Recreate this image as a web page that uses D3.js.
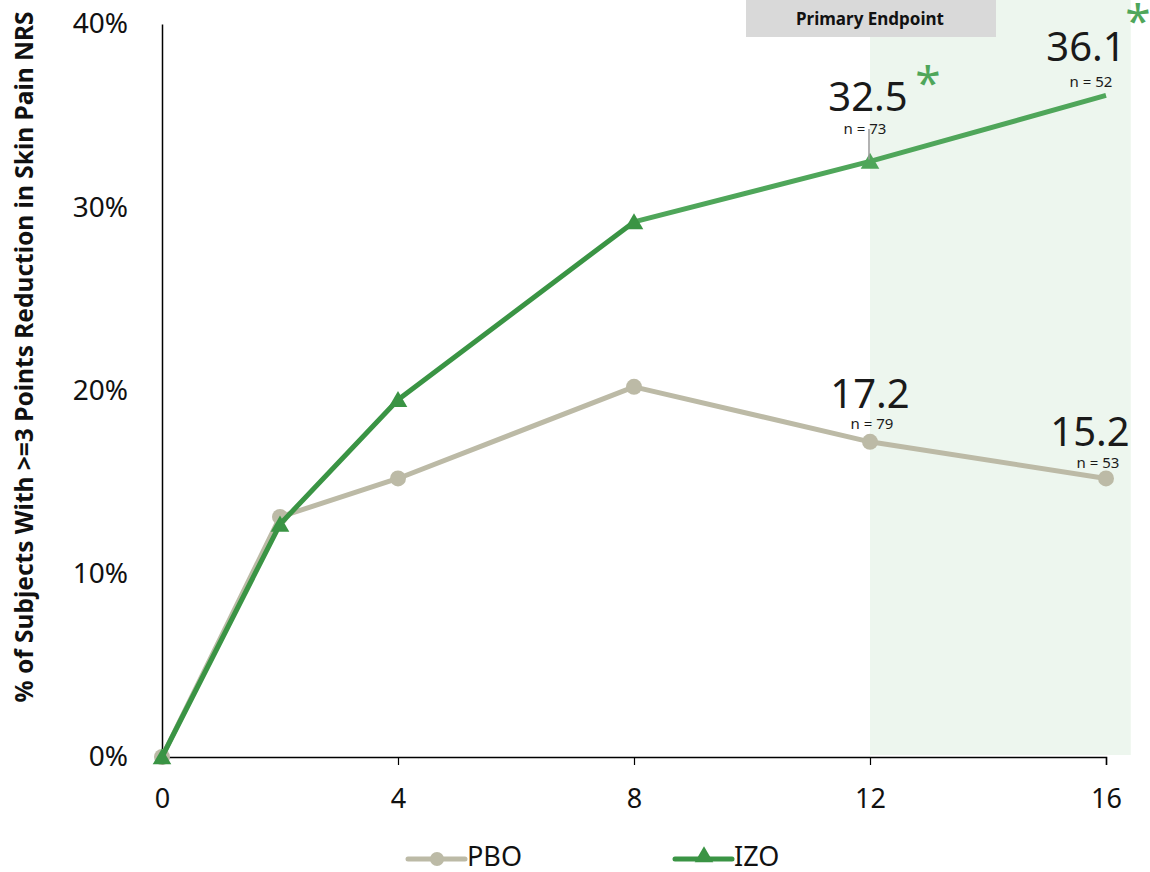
<!DOCTYPE html>
<html><head><meta charset="utf-8">
<script src="https://cdn.jsdelivr.net/npm/d3@7"></script>
<style>body{margin:0;background:#fff}svg{display:block;font-family:"Noto Sans","Open Sans",sans-serif}</style>
</head><body><svg id="c" width="1150" height="872"></svg>
<script>
const weeks = [0, 2, 4, 8, 12, 16];
const pbo = [0, 13.1, 15.2, 20.2, 17.2, 15.2];
const izo = [0, 12.7, 19.5, 29.2, 32.5, 36.1];
const xTicks = [0, 4, 8, 12, 16];
const yTicks = [0, 10, 20, 30, 40];
const labelsPBO = [{w:12, v:"17.2", n:"n = 79"}, {w:16, v:"15.2", n:"n = 53"}];
const labelsIZO = [{w:12, v:"32.5", n:"n = 73"}, {w:16, v:"36.1", n:"n = 52"}];
const seriesNames = ["PBO", "IZO"];

const svg = d3.select("#c");
const x = d3.scaleLinear().domain([0,16]).range([162,1106]);
const y = d3.scaleLinear().domain([0,40]).range([757,24]);
const cPBO = "#bcbaa6", cIZO = "#3a9444", cIZO2 = "#4fa65a";

// shaded primary endpoint region
svg.append("rect").attr("x", x(12)).attr("y", 0).attr("width", x(16.42)-x(12)).attr("height", y(0)-2)
  .attr("fill", "#edf6ee");
svg.append("rect").attr("x", x(12)-124).attr("y", 0).attr("width", 250).attr("height", 37).attr("fill", "#d9d9d9");
svg.append("text").attr("x", x(12)).attr("y", 20).attr("text-anchor","middle").attr("dominant-baseline","middle")
  .attr("font-size", 17).attr("font-weight", "bold").attr("fill","#111").text("Primary Endpoint");

// axes
const yAxis = svg.append("g").attr("transform", `translate(${x(0)},0)`)
  .call(d3.axisLeft(y).tickValues(yTicks).tickSize(0).tickFormat(d => d + "%"));
yAxis.select(".domain").attr("stroke","#000").attr("stroke-width",1.5);
yAxis.selectAll("text").attr("font-size", 28).attr("fill","#111").attr("x", -34).attr("font-family","Noto Sans");

const xAxis = svg.append("g").attr("transform", `translate(0,${y(0)})`)
  .call(d3.axisBottom(x).tickValues(xTicks).tickSizeOuter(0).tickSize(8));
xAxis.select(".domain").attr("stroke","#000").attr("stroke-width",1.5);
xAxis.selectAll("line").attr("stroke","#000").attr("stroke-width",1.2);
xAxis.selectAll("text").attr("font-size", 27).attr("fill","#111").attr("y", 32).attr("font-family","Noto Sans");

// y label
svg.append("text").attr("transform", "translate(33,357) rotate(-90)").attr("text-anchor","middle")
  .attr("font-size", 24.5).attr("font-weight","bold").attr("fill","#111")
  .text("% of Subjects With >=3 Points Reduction in Skin Pain NRS");

const line = d3.line().x(d => x(d[0])).y(d => y(d[1]));
const pD = weeks.map((w,i) => [w, pbo[i]]);
const iD = weeks.map((w,i) => [w, izo[i]]);

// PBO
svg.append("path").attr("d", line(pD)).attr("fill","none").attr("stroke", cPBO).attr("stroke-width", 5).attr("stroke-linejoin","round");
svg.selectAll(".pm").data(pD).join("circle").attr("cx", d => x(d[0])).attr("cy", d => y(d[1])).attr("r", 8).attr("fill", cPBO);

// IZO
svg.append("path").attr("d", line(iD.slice(0,4))).attr("fill","none").attr("stroke", cIZO).attr("stroke-width", 5).attr("stroke-linejoin","round");
svg.append("path").attr("d", line(iD.slice(3))).attr("fill","none").attr("stroke", cIZO2).attr("stroke-width", 5).attr("stroke-linejoin","round");
const tri = d3.symbol().type(d3.symbolTriangle).size(150);
svg.selectAll(".im").data(iD.slice(0,5)).join("path").attr("d", tri)
  .attr("transform", d => `translate(${x(d[0])},${y(d[1])+2})`)
  .attr("fill", (d,i) => i === 4 ? cIZO2 : cIZO);

// leader line at week 12 IZO
svg.append("line").attr("x1", x(12)-1).attr("x2", x(12)-1).attr("y1", 129).attr("y2", y(32.5)-2)
  .attr("stroke", "#999").attr("stroke-width", 1.5);

// data labels
const lbl = (cx, by, v, ny, n, nx) => {
  svg.append("text").attr("x", cx).attr("y", by).attr("text-anchor","middle").attr("font-size", 40).attr("fill","#1a1a1a").text(v);
  svg.append("text").attr("x", nx).attr("y", ny).attr("text-anchor","middle").attr("font-size", 15).attr("fill","#1a1a1a").text(n);
};
lbl(x(12)-2, 111, labelsIZO[0].v, 134, labelsIZO[0].n, x(12)-5);
lbl(x(16)-20, 61, labelsIZO[1].v, 87, labelsIZO[1].n, x(16)-15);
lbl(x(12), 408, labelsPBO[0].v, 429, labelsPBO[0].n, x(12)+2);
lbl(x(16)-16, 446, labelsPBO[1].v, 468, labelsPBO[1].n, x(16)-8);

// asterisks
svg.append("text").attr("x", 928).attr("y", 100).attr("text-anchor","middle").attr("font-size", 46).attr("fill", cIZO2).text("*");
svg.append("text").attr("x", 1138).attr("y", 38).attr("text-anchor","middle").attr("font-size", 46).attr("fill", cIZO2).text("*");

// legend
const lg = svg.append("g");
const legendItems = [{name: seriesNames[0], x0: 408, c: cPBO, m: "c"}, {name: seriesNames[1], x0: 675, c: cIZO, m: "t"}];
legendItems.forEach(it => {
  lg.append("line").attr("x1", it.x0).attr("x2", it.x0+57).attr("y1", 859).attr("y2", 859).attr("stroke", it.c).attr("stroke-width", 5).attr("stroke-linecap","round");
  if (it.m === "c") lg.append("circle").attr("cx", it.x0+29).attr("cy", 859).attr("r", 7).attr("fill", it.c);
  else lg.append("path").attr("d", tri).attr("transform", `translate(${it.x0+29},${857})`).attr("fill", it.c);
  lg.append("text").attr("x", it.x0+59).attr("y", 866).attr("font-size", 27).attr("fill","#111").text(it.name);
});
</script></body></html>
